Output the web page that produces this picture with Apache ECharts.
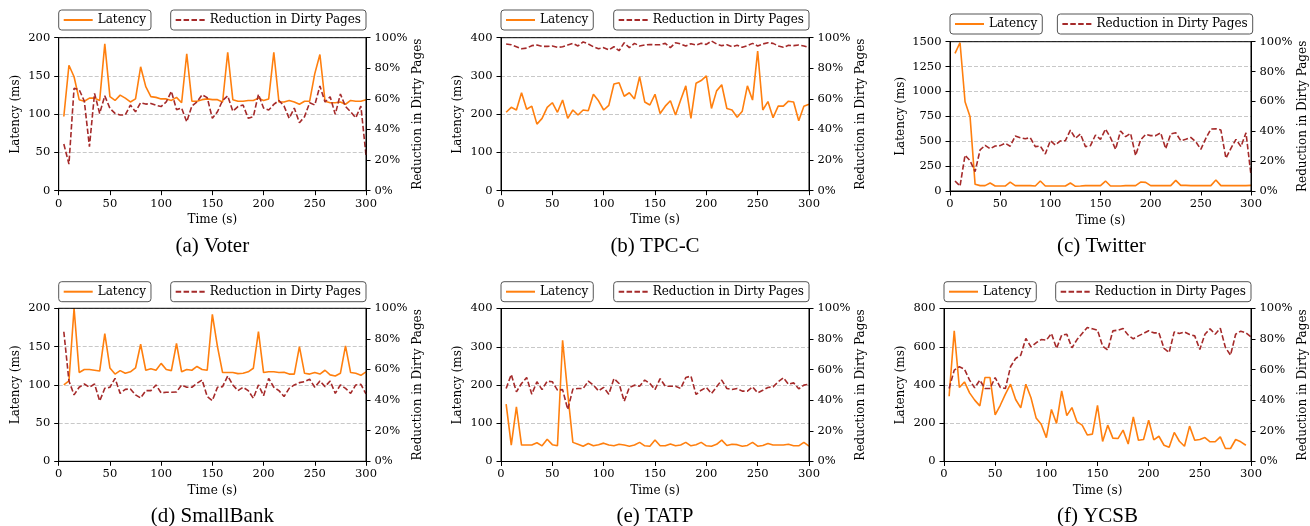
<!DOCTYPE html>
<html><head><meta charset="utf-8">
<script src="https://cdn.jsdelivr.net/npm/echarts@6/dist/echarts.min.js"></script>
<style>html,body{margin:0;padding:0;background:#fff}#c{width:1310px;height:526px}</style>
</head><body><div id="c"></div>
<script>
const times = [5,10,15,20,25,30,35,40,45,50,55,60,65,70,75,80,85,90,95,100,105,110,115,120,125,130,135,140,145,150,155,160,165,170,175,180,185,190,195,200,205,210,215,220,225,230,235,240,245,250,255,260,265,270,275,280,285,290,295,300];

const voterLatency = [97,164,149,119,117,121,121,118,192,123,118,125,121,116,120,162,136,123,122,120,120,118,122,115,179,117,117,119,120,119,119,116,181,119,117,117,118,118,121,118,120,181,116,116,118,116,113,117,117,153,178,117,115,115,116,113,118,117,117,119];
const voterReduction = [30.5,17.4,67,66,58.6,28.8,63.6,50.5,62,53.8,50.5,49.5,49.5,56,51.6,57.5,56.6,57,55.8,55,58,65,53,54,45,55.3,58,62.7,60.8,47.3,51.6,59,62,52,55,56,47.3,48.4,63,54,52.7,56.4,59,55.3,47.3,54,44.4,48.4,57.5,56,68.4,58,61.4,49.9,63.2,55,51.6,47.7,55.3,23.3];

const tpccLatency = [205,218,211,256,213,221,174,189,218,230,205,237,189,211,198,211,209,252,235,211,223,279,282,247,256,240,298,232,224,252,202,221,235,198,237,274,189,281,288,300,215,261,277,215,211,192,208,274,237,365,211,233,191,221,221,234,232,183,221,226];
const tpccReduction = [95.9,95.4,94.1,92.8,93.2,94.8,95.2,94.3,94.3,94.6,93.7,94.1,95.2,96.3,94.6,97.2,95.9,94.1,92.8,93.5,92,94.1,91.5,96.7,93.5,96.3,94.6,95.2,95.6,95.4,95.4,96.3,93.5,96.7,95.9,94.6,96.1,95.2,96.3,95.6,97.8,95.9,94.8,95.4,94.1,95,93.7,94.8,96.3,94.6,95.9,96.7,96.3,94.6,93.7,95,94.8,95.2,94.6,93.5];

const twitterLatency = [1383,1490,897,747,67,54,54,80,50,50,50,90,54,54,54,54,50,100,50,50,50,50,50,80,47,50,54,54,54,54,100,50,50,50,54,54,54,90,87,54,54,54,54,54,107,57,57,54,54,54,54,54,110,54,54,54,54,54,54,57];
const twitterReduction = [6.7,3.3,24,20.3,13,27.5,30.6,28.3,30.1,30.4,32,30,36.8,35.7,35,35.7,29.7,30.1,24.8,33.7,30.8,33.5,33.7,40.8,35.3,38.2,29.7,30.4,37.5,34.6,41.5,35.7,27.9,40.2,36.4,38.6,23.7,34.2,37.9,37.1,37.1,39,28.3,38.2,39,33.7,34.6,35.9,33,27.9,35.3,41.5,41.7,40.8,21.9,28.6,34.6,29.7,39,10.7];

const smallbankLatency = [100,105,200,116,120,120,119,118,167,122,114,118.5,115,117,122,153,119,121,119,128,120,118.5,154,117,120,119,124,120,119,192,150,116,116,116,114.6,115,117,121.6,169.5,116,117,117,116,116.3,114,114,150,115,114,116,114,119,113,111.5,115,150.8,116,115,112.4,117];
const smallbankReduction = [84.7,52.5,43.4,48.4,50.5,48.4,50.5,39.4,47.7,48.4,54.2,44.4,47,47.3,43.4,41.4,46.2,46.2,49.9,44.7,45.1,45.1,45.3,49.9,48.4,48.4,51,53.2,42.3,39.7,48.4,48.8,55.8,49.9,46.2,48.4,46.2,41.2,49.9,42.9,54.2,48.4,46.2,42.3,47.7,49.9,51.4,52.1,53.6,48.4,52.5,48.8,52.5,44.4,49.9,47.7,44.4,49.9,50.3,44];

const tatpLatency = [150,43,143,43,43,43,49,41,58,44,41,317,178,50,45,40,47,41,44,48,43,41,45,43,40,43,50,41,40,56,41,41,46,41,43,50,41,44,50,41,40,45,56,42,45,44,40,42,50,40,42,47,43,43,43,45,41,41,50,40];
const tatpReduction = [47.7,56.9,45.5,51,54.9,44,52.1,47,52.5,52.1,46.6,47,34,47.3,47.7,47.7,52.5,49.9,46.2,48.4,44,54.2,51,39.4,48.4,49.9,49.2,53.2,51,47,54.2,49.2,49.2,49.2,47.7,54.9,55.8,43.8,46.6,48.4,44.4,48.8,53.2,47.7,47,47.7,46,46,48.8,44.9,46.6,48.4,48.8,52.1,54.7,50.5,51.4,47.5,49.9,50.5];

const ycsbLatency = [341,683,387,416,359,321,291,439,439,244,294,352,404,324,280,404,333,228,195,125,272,199,369,240,282,207,190,139,143,294,105,190,122,120,164,91,233,111,115,216,113,132,85,75,152,106,80,185,111,115,125,103,103,129,68,68,115,103,85,null];
const ycsbReduction = [47.7,59.7,61.9,60.3,53.2,48.1,53.2,47.7,47.7,54.9,48.4,47.7,61.9,67.3,69.5,80.4,74.9,77.6,79.7,79.3,83.7,73.9,82.6,83.2,74.3,79.7,83.7,87.6,86.7,85.8,75.4,72.8,85.4,85.8,86.9,82.6,80.2,82.1,83.7,85.4,84.1,84.1,73.9,71.2,84.7,83.7,84.7,83,82.1,73.2,83.2,86.7,83.2,87.1,74.5,69.5,83.2,85.2,84.1,81.5];

const captions = ['(a) Voter','(b) TPC-C','(c) Twitter','(d) SmallBank','(e) TATP','(f) YCSB'];
const latencyMax = [200,400,1500,200,400,800];
const latencyStep = [50,100,250,50,100,200];
const latencySeries = [voterLatency,tpccLatency,twitterLatency,smallbankLatency,tatpLatency,ycsbLatency];
const reductionSeries = [voterReduction,tpccReduction,twitterReduction,smallbankReduction,tatpReduction,ycsbReduction];

// layout (pixels)
const panels = [
  {l:58.7, w:307.3, t:37.7, h:153, lg:10, ng:37, capY:246},
  {l:501, w:308, t:37.7, h:153, lg:10, ng:37, capY:246},
  {l:950, w:302.7, t:41.7, h:149.3, lg:14, ng:43, capY:246},
  {l:58.7, w:307.3, t:308.3, h:153, lg:281.7, ng:37, capY:516},
  {l:501, w:308, t:308.5, h:153, lg:281.7, ng:37, capY:516},
  {l:944, w:307, t:308.5, h:153, lg:281.7, ng:37, capY:516}
];

const FONT = 'DejaVu Serif';
const ORANGE = '#ff7f0e';
const RED = '#a52a2a';

const grid = [], xAxis = [], yAxis = [], series = [], legend = [], graphic = [];
panels.forEach((p, i) => {
  grid.push({left:p.l, top:p.t, width:p.w, height:p.h, show:true, z:5, borderColor:'#000', borderWidth:1, backgroundColor:'transparent'});
  xAxis.push({type:'value', gridIndex:i, min:0, max:300, interval:50,
    name:'Time (s)', nameLocation:'middle', nameGap:23.5,
    nameTextStyle:{fontFamily:FONT, fontSize:12, color:'#000'},
    axisLine:{lineStyle:{color:'#000', width:1}}, axisTick:{length:4.5, lineStyle:{color:'#000'}},
    axisLabel:{fontFamily:FONT, fontSize:11.5, color:'#000', margin:7}, splitLine:{show:false}});
  yAxis.push({type:'value', gridIndex:i, min:0, max:latencyMax[i], interval:latencyStep[i], position:'left',
    name:'Latency (ms)', nameLocation:'middle', nameGap:p.ng, nameRotate:90,
    nameTextStyle:{fontFamily:FONT, fontSize:12, color:'#000'},
    axisLine:{show:true, lineStyle:{color:'#000', width:1}}, axisTick:{show:true, length:4.5, lineStyle:{color:'#000'}},
    axisLabel:{fontFamily:FONT, fontSize:11.5, color:'#000', margin:8.5, formatter:(v) => String(v)},
    splitLine:{show:true, lineStyle:{color:'#c8c8c8', type:[4,2], width:1}}});
  yAxis.push({type:'value', gridIndex:i, min:0, max:100, interval:20, position:'right',
    name:'Reduction in Dirty Pages', nameLocation:'middle', nameGap:46, nameRotate:90,
    nameTextStyle:{fontFamily:FONT, fontSize:12, color:'#000'},
    axisLine:{show:true, lineStyle:{color:'#000', width:1}}, axisTick:{show:true, length:4.5, lineStyle:{color:'#000'}},
    axisLabel:{fontFamily:FONT, fontSize:11.5, color:'#000', margin:8.5, formatter:'{value}%'},
    splitLine:{show:false}});
  series.push({type:'line', name:'Latency', xAxisIndex:i, yAxisIndex:2*i, showSymbol:false, symbol:'none',
    lineStyle:{color:ORANGE, width:1.6}, itemStyle:{color:ORANGE}, animation:false,
    data: times.map((t, k) => [t, latencySeries[i][k]])});
  series.push({type:'line', name:'Reduction in Dirty Pages', xAxisIndex:i, yAxisIndex:2*i+1, showSymbol:false, symbol:'none',
    lineStyle:{color:RED, width:1.6, type:[5.5,2.4]}, itemStyle:{color:RED}, animation:false,
    data: times.map((t, k) => [t, reductionSeries[i][k]])});
  const lgCommon = {top:p.lg, orient:'horizontal', itemWidth:29, itemHeight:14, itemGap:0,
    padding:[4,5,4,4], borderColor:'#555', borderWidth:1, borderRadius:3, backgroundColor:'#fff',
    itemStyle:{opacity:0}, lineStyle:{width:2},
    textStyle:{fontFamily:FONT, fontSize:12, color:'#000'}, selectedMode:false};
  legend.push(Object.assign({}, lgCommon, {left:p.l, data:['Latency']}));
  legend.push(Object.assign({}, lgCommon, {right:1310 - (p.l + p.w), data:['Reduction in Dirty Pages']}));
  graphic.push({type:'text', x:p.l + p.w/2, y:p.capY, style:{text:captions[i], fontFamily:'Liberation Serif', fontSize:21, fill:'#000', textAlign:'center', textVerticalAlign:'middle'}});
});

const chart = echarts.init(document.getElementById('c'), null, {renderer:'canvas'});
chart.setOption({animation:false, backgroundColor:'#fff', grid, xAxis, yAxis, series, legend, graphic});
</script></body></html>
